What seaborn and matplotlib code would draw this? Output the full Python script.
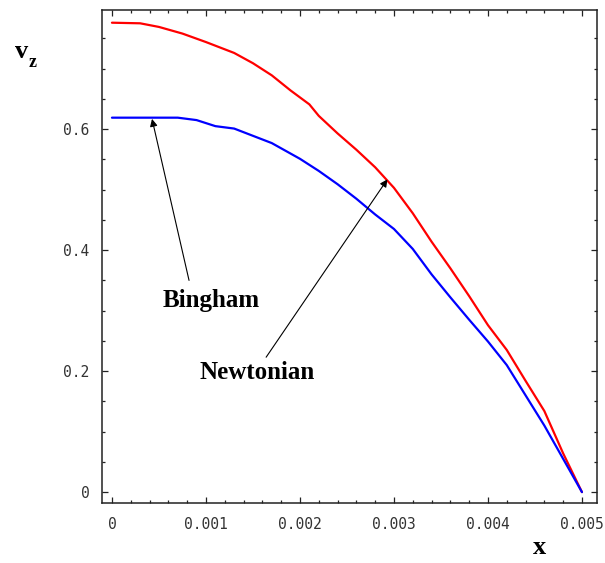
import matplotlib
matplotlib.use("Agg")
import matplotlib.pyplot as plt
import seaborn as sns
import numpy as np
import pandas as pd
from matplotlib.ticker import FixedLocator, MultipleLocator

# --- data ---
newton_x = [0.0, 0.0003, 0.0005, 0.00075, 0.001, 0.0013, 0.0015, 0.0017, 0.0019,
            0.0021, 0.0022, 0.0024, 0.0026, 0.0028, 0.003, 0.0032, 0.0034, 0.0036,
            0.0038, 0.004, 0.0042, 0.0044, 0.0046, 0.0048, 0.005]
newton_v = [0.776, 0.775, 0.769, 0.758, 0.744, 0.726, 0.709, 0.689, 0.664,
            0.641, 0.622, 0.593, 0.566, 0.537, 0.503, 0.461, 0.414, 0.370,
            0.324, 0.276, 0.235, 0.184, 0.134, 0.064, 0.0]

bingham_x = [0.0, 0.0004, 0.0007, 0.0009, 0.0011, 0.0013, 0.0015, 0.0017, 0.002,
             0.0022, 0.0024, 0.0026, 0.0028, 0.003, 0.0032, 0.0034, 0.0036, 0.0038,
             0.004, 0.0042, 0.0044, 0.0046, 0.0048, 0.005]
bingham_v = [0.619, 0.619, 0.619, 0.615, 0.605, 0.601, 0.589, 0.577, 0.551,
             0.531, 0.509, 0.485, 0.459, 0.435, 0.402, 0.360, 0.322, 0.285,
             0.249, 0.210, 0.160, 0.110, 0.055, 0.0]

x_ticks = [0, 0.001, 0.002, 0.003, 0.004, 0.005]
x_tick_labels = ["0", "0.001", "0.002", "0.003", "0.004", "0.005"]
y_ticks = [0, 0.2, 0.4, 0.6]
y_tick_labels = ["0", "0.2", "0.4", "0.6"]

df_n = pd.DataFrame({"x": newton_x, "v": newton_v})
df_b = pd.DataFrame({"x": bingham_x, "v": bingham_v})

sns.set_style("ticks")
plt.rcParams["font.family"] = ["DejaVu Sans"]

fig = plt.figure(figsize=(6.05, 5.63), dpi=100)
ax = fig.add_axes([102 / 605, 1 - 503 / 563, (597 - 102) / 605, (503 - 10) / 563])

sns.lineplot(data=df_n, x="x", y="v", color="#ff0000", lw=1.6, ax=ax)
sns.lineplot(data=df_b, x="x", y="v", color="#0000ff", lw=1.6, ax=ax)

ax.set_xlim(-0.000106, 0.00516)
ax.set_ylim(-0.018, 0.797)

ax.xaxis.set_major_locator(FixedLocator(x_ticks))
ax.set_xticklabels(x_tick_labels)
ax.xaxis.set_minor_locator(MultipleLocator(0.0002))
ax.yaxis.set_major_locator(FixedLocator(y_ticks))
ax.set_yticklabels(y_tick_labels)
ax.yaxis.set_minor_locator(MultipleLocator(0.05))

ax.tick_params(which="both", direction="in", top=True, right=True,
               color="#222222", width=0.9)
ax.tick_params(which="major", length=4)
ax.tick_params(which="minor", length=2.5)
ax.tick_params(axis="x", which="major", pad=10)
ax.tick_params(axis="y", which="major", pad=9)
for lab in ax.get_xticklabels() + ax.get_yticklabels():
    lab.set_family("DejaVu Sans Mono")
    lab.set_fontsize(10.5)
    lab.set_color("#333333")

for s in ax.spines.values():
    s.set_linewidth(1.1)
    s.set_color("#222222")

ax.set_xlabel("")
ax.set_ylabel("")

serif = ["Liberation Serif", "DejaVu Serif"]
fig.text(15 / 605, 1 - 58 / 563, "v", family=serif, weight="bold", fontsize=19,
         ha="left", va="baseline", color="black")
fig.text(29 / 605, 1 - 67 / 563, "z", family=serif, weight="bold", fontsize=13,
         ha="left", va="baseline", color="black")
fig.text(540 / 605, 1 - 548 / 563, "x", family=serif, weight="bold", fontsize=19,
         ha="center", va="center", color="black")

arrow = dict(arrowstyle="-|>", color="black", lw=0.8, mutation_scale=11,
             shrinkA=0, shrinkB=0)
ax.annotate("", xy=(0.000426, 0.617), xytext=(0.00082, 0.350), arrowprops=arrow)
ax.annotate("", xy=(0.00293, 0.517), xytext=(0.00164, 0.223), arrowprops=arrow)
ax.text(0.00106, 0.317, "Bingham", family=serif, weight="bold", fontsize=18,
        ha="center", va="center", color="black")
ax.text(0.00154, 0.197, "Newtonian", family=serif, weight="bold", fontsize=18,
        ha="center", va="center", color="black")

fig.savefig("out.png", dpi=100)
